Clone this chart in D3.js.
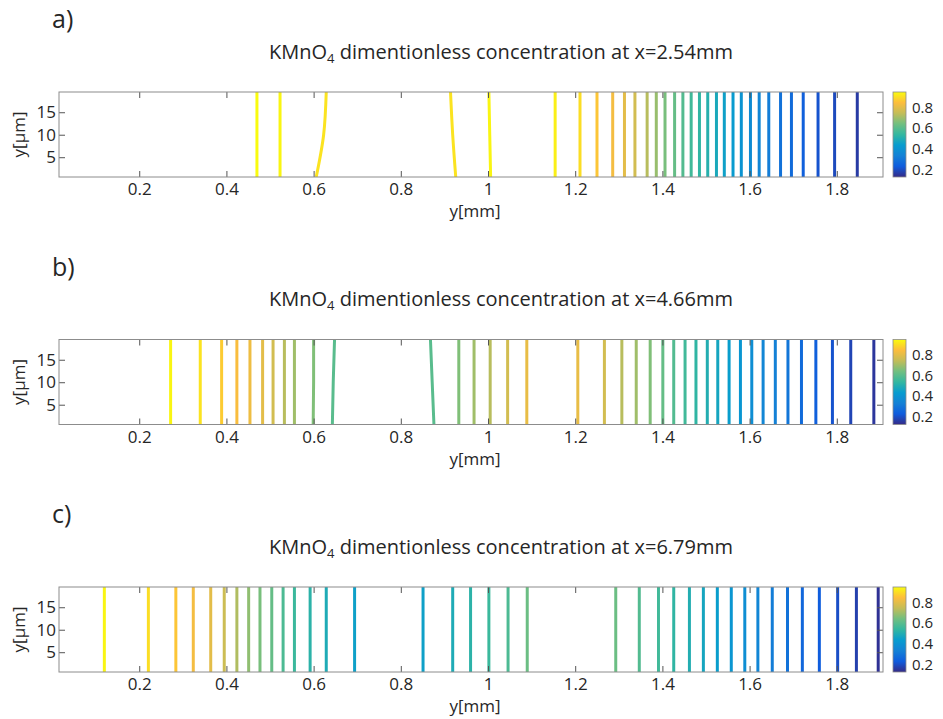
<!DOCTYPE html>
<meta charset="utf-8">
<script src="https://d3js.org/d3.v7.min.js"></script>
<style>
  body { margin: 0; background: #fff; }
  svg text { font-family: "Open Sans", sans-serif; fill: #262626; }
</style>
<div id="my_dataviz"></div>
<script>
// panel labels and positions along the channel
var panelTags = ["a)", "b)", "c)"];
var panelPos = ["2.54", "4.66", "6.79"];
var xTicks = [0.2, 0.4, 0.6, 0.8, 1, 1.2, 1.4, 1.6, 1.8];
var yTicks = [5, 10, 15];
var cbarTicks = [0.2, 0.4, 0.6, 0.8];
// contour lines are read at three heights: bottom, middle, top (um)
var heights = [0.6, 10, 19.5];

// a) x = 2.54mm : contour x position (mm) at bottom / middle / top, and level
var botA = [0.470, 0.523, 0.606, 0.926, 1.006, 1.154, 1.211, 1.250, 1.286, 1.313, 1.337, 1.365, 1.386, 1.406, 1.428, 1.447, 1.466, 1.485, 1.504, 1.524, 1.542, 1.562, 1.581, 1.602, 1.622, 1.644, 1.671, 1.696, 1.723, 1.757, 1.795, 1.847];
var midA = [0.470, 0.523, 0.623, 0.919, 1.004, 1.154, 1.211, 1.250, 1.286, 1.313, 1.337, 1.365, 1.386, 1.406, 1.428, 1.447, 1.466, 1.485, 1.504, 1.524, 1.542, 1.562, 1.581, 1.602, 1.622, 1.644, 1.671, 1.696, 1.723, 1.757, 1.795, 1.847];
var topA = [0.470, 0.523, 0.629, 0.914, 1.002, 1.154, 1.211, 1.250, 1.286, 1.313, 1.337, 1.365, 1.386, 1.406, 1.428, 1.447, 1.466, 1.485, 1.504, 1.524, 1.542, 1.562, 1.581, 1.602, 1.622, 1.644, 1.671, 1.696, 1.723, 1.757, 1.795, 1.847];
var levA = [0.95, 0.94, 0.91, 0.91, 0.94, 0.93, 0.90, 0.86, 0.83, 0.80, 0.77, 0.73, 0.69, 0.65, 0.62, 0.59, 0.56, 0.53, 0.51, 0.48, 0.45, 0.43, 0.40, 0.37, 0.35, 0.32, 0.29, 0.27, 0.24, 0.21, 0.19, 0.16];

// b) x = 4.66mm
var botB = [0.272, 0.340, 0.389, 0.424, 0.454, 0.483, 0.507, 0.533, 0.556, 0.599, 0.643, 0.876, 0.933, 0.968, 1.005, 1.045, 1.089, 1.206, 1.267, 1.307, 1.340, 1.372, 1.401, 1.426, 1.452, 1.477, 1.503, 1.527, 1.553, 1.579, 1.605, 1.631, 1.659, 1.688, 1.719, 1.752, 1.790, 1.832, 1.885];
var midB = [0.272, 0.340, 0.389, 0.424, 0.454, 0.483, 0.507, 0.533, 0.556, 0.600, 0.645, 0.872, 0.933, 0.968, 1.005, 1.045, 1.089, 1.206, 1.267, 1.307, 1.340, 1.372, 1.401, 1.426, 1.452, 1.477, 1.503, 1.527, 1.553, 1.579, 1.605, 1.631, 1.659, 1.688, 1.719, 1.752, 1.790, 1.832, 1.885];
var topB = [0.272, 0.340, 0.389, 0.424, 0.454, 0.483, 0.507, 0.533, 0.556, 0.600, 0.648, 0.868, 0.933, 0.968, 1.005, 1.045, 1.089, 1.206, 1.267, 1.307, 1.340, 1.372, 1.401, 1.426, 1.452, 1.477, 1.503, 1.527, 1.553, 1.579, 1.605, 1.631, 1.659, 1.688, 1.719, 1.752, 1.790, 1.832, 1.885];
var levB = [0.94, 0.91, 0.87, 0.84, 0.82, 0.80, 0.77, 0.73, 0.70, 0.66, 0.60, 0.60, 0.66, 0.70, 0.73, 0.77, 0.81, 0.81, 0.77, 0.73, 0.70, 0.66, 0.62, 0.59, 0.56, 0.53, 0.50, 0.47, 0.44, 0.41, 0.38, 0.35, 0.33, 0.30, 0.27, 0.24, 0.21, 0.18, 0.15];

// c) x = 6.79mm
var botC = [0.120, 0.221, 0.284, 0.324, 0.364, 0.395, 0.424, 0.451, 0.477, 0.504, 0.530, 0.556, 0.592, 0.629, 0.694, 0.851, 0.919, 0.960, 1.002, 1.046, 1.090, 1.293, 1.347, 1.391, 1.426, 1.462, 1.494, 1.526, 1.558, 1.589, 1.619, 1.652, 1.687, 1.721, 1.760, 1.802, 1.845, 1.895];
var midC = botC;
var topC = botC;
var levC = [0.94, 0.90, 0.86, 0.83, 0.80, 0.76, 0.72, 0.68, 0.65, 0.62, 0.58, 0.55, 0.52, 0.49, 0.45, 0.45, 0.49, 0.52, 0.55, 0.58, 0.63, 0.63, 0.59, 0.56, 0.53, 0.50, 0.47, 0.44, 0.41, 0.38, 0.35, 0.32, 0.29, 0.26, 0.23, 0.20, 0.17, 0.14];

var panels = [
  { bot: botA, mid: midA, top: topA, lev: levA },
  { bot: botB, mid: midB, top: topB, lev: levB },
  { bot: botC, mid: midC, top: topC, lev: levC }
];

// parula colormap
var parula = ["#352a87", "#0f5cdd", "#1481d6", "#079ccf", "#33b7a0", "#71bf80", "#c3bd58", "#fdbd3c", "#f9fb0e"];
var parulaInterp = d3.piecewise(d3.interpolateRgb, parula);
var color = d3.scaleSequential(parulaInterp).domain([0.125, 0.95]);

var W = 943, H = 719;
var left = 59, plotW = 824, plotH = 85;
var panelTop = [92, 339.5, 587];

var svg = d3.select("#my_dataviz")
  .append("svg")
  .attr("width", W)
  .attr("height", H);

var defs = svg.append("defs");
var grad = defs.append("linearGradient")
  .attr("id", "parulaGrad")
  .attr("x1", 0).attr("y1", 1).attr("x2", 0).attr("y2", 0);
d3.range(0, 1.0001, 0.025).forEach(function (t) {
  grad.append("stop").attr("offset", t).attr("stop-color", parulaInterp(t));
});

var x = d3.scaleLinear().domain([0.016, 1.906]).range([0, plotW]);
var y = d3.scaleLinear().domain([heights[0], heights[2]]).range([plotH, 0]);
var cbY = d3.scaleLinear().domain([0.125, 0.95]).range([plotH, 0]);

var line = d3.line()
  .x(function (d) { return x(d[0]); })
  .y(function (d) { return y(d[1]); })
  .curve(d3.curveNatural);

panels.forEach(function (p, k) {
  var top = panelTop[k];

  svg.append("text")
    .attr("x", 52)
    .attr("y", top - 64)
    .style("font-size", "25px")
    .text(panelTags[k]);

  var title = svg.append("text")
    .attr("x", 501)
    .attr("y", top - 33.5)
    .attr("text-anchor", "middle")
    .style("font-size", "20px");
  title.append("tspan").text("KMnO");
  title.append("tspan").attr("dy", 4).style("font-size", "13px").text("4");
  title.append("tspan").attr("dy", -4).text(" dimentionless concentration at x=" + panelPos[k] + "mm");

  var g = svg.append("g")
    .attr("transform", "translate(" + left + "," + top + ")");

  g.append("clipPath").attr("id", "clip" + k)
    .append("rect").attr("width", plotW).attr("height", plotH);

  // contour lines
  g.append("g")
    .attr("clip-path", "url(#clip" + k + ")")
    .selectAll("path")
    .data(p.lev)
    .enter()
    .append("path")
    .attr("d", function (d, i) {
      return line([[p.bot[i], heights[0]], [p.mid[i], heights[1]], [p.top[i], heights[2]]]);
    })
    .attr("fill", "none")
    .attr("stroke", function (d) { return color(d); })
    .attr("stroke-width", 3);

  // ticks (inside, on all four sides)
  var xb = g.append("g")
    .attr("transform", "translate(0," + plotH + ")")
    .call(d3.axisBottom(x).tickValues(xTicks).tickSize(-6).tickPadding(6).tickFormat(d3.format("")));
  var xt = g.append("g")
    .call(d3.axisTop(x).tickValues(xTicks).tickSize(-6).tickFormat(""));
  var yl = g.append("g")
    .call(d3.axisLeft(y).tickValues(yTicks).tickSize(-6).tickPadding(3));
  var yr = g.append("g")
    .attr("transform", "translate(" + plotW + ",0)")
    .call(d3.axisRight(y).tickValues(yTicks).tickSize(-6).tickFormat(""));
  [xb, xt, yl, yr].forEach(function (a) {
    a.select(".domain").remove();
    a.selectAll(".tick line").attr("stroke", "#555");
    a.selectAll(".tick text")
      .style("font-size", "17px")
      .style("font-family", "'Open Sans', sans-serif")
      .attr("fill", "#262626");
  });

  g.append("rect")
    .attr("width", plotW)
    .attr("height", plotH)
    .attr("fill", "none")
    .attr("stroke", "#8c8c8c")
    .attr("stroke-width", 1);

  g.append("text")
    .attr("x", 416)
    .attr("y", plotH + 40)
    .attr("text-anchor", "middle")
    .style("font-size", "17px")
    .text("y[mm]");

  g.append("text")
    .attr("transform", "translate(" + (25 - left) + "," + (plotH / 2) + ")rotate(-90)")
    .attr("text-anchor", "middle")
    .style("font-size", "17px")
    .text("y[\u03bcm]");

  // colorbar
  var cb = svg.append("g")
    .attr("transform", "translate(893," + top + ")");
  cb.append("rect")
    .attr("width", 13)
    .attr("height", plotH)
    .attr("fill", "url(#parulaGrad)")
    .attr("stroke", "#8c8c8c")
    .attr("stroke-width", 0.8);
  cb.selectAll("text")
    .data(cbarTicks)
    .enter()
    .append("text")
    .attr("x", 19)
    .attr("y", function (d) { return cbY(d); })
    .attr("dy", "0.35em")
    .style("font-size", "15px")
    .text(function (d) { return d; });
});
</script>
